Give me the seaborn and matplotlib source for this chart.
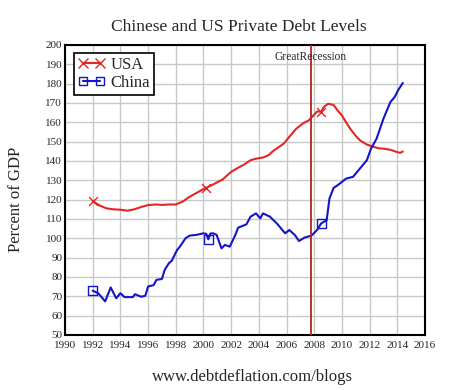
import matplotlib
matplotlib.use("Agg")
import matplotlib.pyplot as plt
from matplotlib.lines import Line2D
import seaborn as sns
import pandas as pd

usa_years = [1992.0, 1992.5, 1993.0, 1993.5, 1994.0, 1994.5, 1995.0, 1995.5, 1996.0, 1996.5,
             1997.0, 1997.5, 1998.0, 1998.5, 1999.0, 1999.5, 2000.0, 2000.2, 2000.6, 2001.0,
             2001.4, 2001.7, 2002.0, 2002.5, 2002.9, 2003.4, 2003.8, 2004.3, 2004.7, 2005.0,
             2005.4, 2005.8, 2006.2, 2006.7, 2007.2, 2007.6, 2008.0, 2008.2, 2008.5, 2008.7,
             2009.0, 2009.4, 2009.7, 2010.0, 2010.3, 2010.6, 2011.0, 2011.3, 2011.8, 2012.3,
             2012.7, 2013.0, 2013.5, 2013.95, 2014.2, 2014.4]
usa_values = [119.2, 117.0, 115.5, 115.0, 114.8, 114.3, 115.0, 116.2, 117.2, 117.5,
              117.3, 117.5, 117.5, 119.0, 121.5, 123.5, 125.5, 126.1, 127.5, 129.0,
              130.5, 132.5, 134.4, 136.5, 138.0, 140.4, 141.2, 141.8, 143.0, 145.0,
              147.0, 149.0, 152.5, 156.7, 159.5, 161.0, 164.0, 165.6, 165.5, 168.0,
              169.6, 169.0, 166.0, 163.6, 160.0, 156.7, 153.0, 150.7, 148.5, 147.3,
              146.5, 146.4, 145.8, 144.7, 144.2, 144.9]
usa_marker_years = [1992.0, 2000.2, 2008.5]

china_years = [1992.0, 1992.4, 1992.9, 1993.3, 1993.7, 1994.0, 1994.3, 1994.9, 1995.05, 1995.5,
               1995.8, 1996.0, 1996.4, 1996.6, 1997.0, 1997.2, 1997.5, 1997.7, 1998.1, 1998.3,
               1998.7, 1999.0, 1999.5, 2000.0, 2000.2, 2000.35, 2000.5, 2000.7, 2000.95, 2001.3,
               2001.55, 2001.9, 2002.3, 2002.5, 2003.1, 2003.4, 2003.8, 2004.1, 2004.3, 2004.8,
               2005.3, 2005.9, 2006.2, 2006.6, 2006.9, 2007.3, 2007.8, 2008.2, 2008.5, 2008.9,
               2009.1, 2009.4, 2009.7, 2010.3, 2010.8, 2011.3, 2011.8, 2012.1, 2012.5, 2013.0,
               2013.5, 2013.8, 2014.05, 2014.4]
china_values = [72.9, 71.6, 67.4, 74.6, 69.0, 71.6, 69.6, 69.6, 71.1, 69.8,
                70.3, 75.1, 75.8, 78.5, 79.0, 83.7, 87.1, 88.3, 94.0, 95.7,
                100.0, 101.4, 101.8, 102.6, 102.3, 99.5, 102.5, 102.6, 101.8, 94.8,
                96.6, 95.7, 101.7, 105.5, 107.2, 111.2, 112.9, 110.3, 112.9, 111.2,
                107.7, 102.6, 104.3, 101.7, 98.6, 100.4, 101.4, 104.3, 107.7, 109.4,
                120.6, 126.1, 127.5, 130.9, 131.8, 136.1, 140.4, 146.4, 151.5, 161.9,
                170.5, 173.0, 176.5, 180.4]
china_marker_years = [1992.0, 2000.35, 2008.5]

recession_year = 2007.75
x_ticks = list(range(1990, 2017, 2))
y_ticks = list(range(50, 201, 10))

usa_color = "#e32626"
china_color = "#1414c8"
recession_color = "#b0241c"

usa_df = pd.DataFrame({"year": usa_years, "value": usa_values})
china_df = pd.DataFrame({"year": china_years, "value": china_values})
usa_m = usa_df[usa_df["year"].isin(usa_marker_years)]
china_m = china_df[china_df["year"].isin(china_marker_years)]

sns.set_theme(style="white")
plt.rcParams["font.family"] = ["Liberation Serif", "DejaVu Serif"]

fig = plt.figure(figsize=(4.5, 3.9), dpi=100)
ax = fig.add_axes([65 / 450, 1 - 335 / 390, 360 / 450, 290 / 390])

ax.set_axisbelow(True)
ax.grid(True, color="#c8c8c8", linewidth=1.0)

sns.lineplot(data=usa_df, x="year", y="value", ax=ax, color=usa_color, linewidth=1.5, sort=False)
sns.lineplot(data=china_df, x="year", y="value", ax=ax, color=china_color, linewidth=1.5, sort=False)
sns.scatterplot(data=usa_m, x="year", y="value", ax=ax, marker="x", s=40, color=usa_color, linewidth=1.0, zorder=5)
sns.scatterplot(data=china_m, x="year", y="value", ax=ax, marker="s", s=40, facecolor="none",
                edgecolor=china_color, linewidth=1.0, zorder=5)

ax.axvline(recession_year, color=recession_color, linewidth=1.3, zorder=4)
ax.text(recession_year, 197, "GreatRecession", ha="center", va="top", fontsize=8.3, zorder=6)

ax.set_xlim(1990, 2016)
ax.set_ylim(50, 200)
ax.set_xticks(x_ticks)
ax.set_yticks(y_ticks)
ax.set_xticklabels([str(t) for t in x_ticks], fontsize=8)
ax.set_yticklabels([str(t) for t in y_ticks], fontsize=8)
ax.tick_params(axis="x", length=0, pad=4)
ax.tick_params(axis="y", length=0, pad=2)
ax.set_xlabel("")
ax.set_ylabel("")
for s in ax.spines.values():
    s.set_color("black")
    s.set_linewidth(1.5)

handles = [
    Line2D([], [], color=usa_color, linewidth=1.5, marker="x", markersize=7, markeredgewidth=1.0),
    Line2D([], [], color=china_color, linewidth=1.5, marker="s", markersize=6, markerfacecolor="none",
           markeredgewidth=1.0),
]
leg = ax.legend(handles, ["USA", "China"], loc="upper left", bbox_to_anchor=(0.015, 0.985), numpoints=2,
                fontsize=12, frameon=True, fancybox=False, handlelength=1.6, handletextpad=0.35,
                borderpad=0.25, labelspacing=0.12, borderaxespad=0.2)
leg.get_frame().set_edgecolor("black")
leg.get_frame().set_linewidth(1.2)
leg.get_frame().set_facecolor("white")
leg.get_frame().set_alpha(1)

fig.text(0.531, 0.93, "Chinese and US Private Debt Levels", ha="center", va="center", fontsize=12.5)
fig.text(0.035, 0.49, "Percent of GDP", ha="center", va="center", rotation=90, fontsize=12)
fig.text(0.561, 0.034, "www.debtdeflation.com/blogs", ha="center", va="center", fontsize=12)

fig.savefig("out.png", dpi=100)
